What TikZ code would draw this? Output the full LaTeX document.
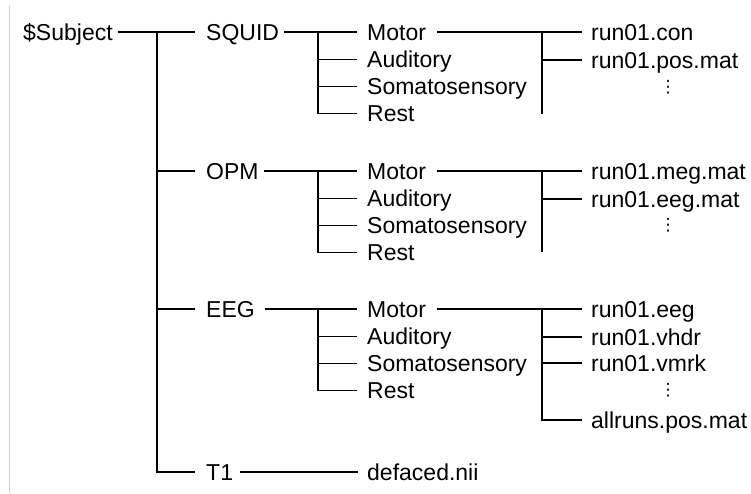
\documentclass[tikz,border=0pt]{standalone}
\usepackage{fontspec}
\setmainfont{Liberation Sans}
\newfontfamily\dotsfont{DejaVu Sans}
\tikzset{
    entry/.style={anchor=west,inner sep=0pt,text height=16.5pt,text depth=0pt,
                  font=\fontsize{23}{27}\selectfont},
    more/.style={inner sep=0pt,font=\dotsfont\fontsize{17}{20}\selectfont},
    link/.style={line width=1.5pt},
    into/.style={link,shorten >=10pt},
    frame/.style={draw=black!18,line width=1pt}
}

\begin{document}
\begin{tikzpicture}[x=1pt,y=-1pt]

    \useasboundingbox (0,0) rectangle (751,493);
    \draw[frame] (9,6) -- (9,493);

    % root and first level
    \node[entry] (subject) at (23,32)  {\$Subject};
    \node[entry] (squid)   at (206,32)  {SQUID};
    \node[entry] (opm)     at (206,171) {OPM};
    \node[entry] (eeg)     at (206,309) {EEG};
    \node[entry] (t1)      at (206,472) {T1};
    \node[entry] (defaced) at (367,472) {defaced.nii};

    \coordinate (root-j) at (157,32);
    \draw[link,shorten <=5pt,shorten >=11pt] (subject) -- (squid);
    \draw[link,shorten >=11pt] (root-j) |- (t1);
    \draw[link,shorten >=11pt] (root-j |- opm) -- (opm);
    \draw[link,shorten >=11pt] (root-j |- eeg) -- (eeg);
    \draw[link,shorten <=7pt,shorten >=9pt] (t1) -- (defaced);

    % tasks
    \foreach \grp/\top/\y/\gap in {sq/squid/32/5, op/opm/171/5, ee/eeg/309/10}{
        \node[entry] (\grp-mot)  at (367,\y)      {Motor};
        \node[entry] (\grp-aud)  at (367,\y+27.5) {Auditory};
        \node[entry] (\grp-som)  at (367,\y+54.5) {Somatosensory};
        \node[entry] (\grp-rest) at (367,\y+81.5) {Rest};
        \coordinate (\grp-j) at (318,\y);
        \draw[into,shorten <=\gap pt] (\top) -- (\grp-mot);
        \draw[into] (\grp-j) |- (\grp-rest);
        \draw[into] (\grp-j |- \grp-aud) -- (\grp-aud);
        \draw[into] (\grp-j |- \grp-som) -- (\grp-som);
    }

    % files
    \node[entry] (sq-f1) at (591,32)  {run01.con};
    \node[entry] (sq-f2) at (591,60)  {run01.pos.mat};
    \node[more]  (sq-dots) at (668,87) {⋮};

    \node[entry] (op-f1) at (591,171) {run01.meg.mat};
    \node[entry] (op-f2) at (591,199) {run01.eeg.mat};
    \node[more]  (op-dots) at (668,225) {⋮};

    \node[entry] (ee-f1) at (591,309) {run01.eeg};
    \node[entry] (ee-f2) at (591,337) {run01.vhdr};
    \node[entry] (ee-f3) at (591,363) {run01.vmrk};
    \node[more]  (ee-dots) at (668,390) {⋮};
    \node[entry] (ee-f4) at (591,420) {allruns.pos.mat};

    \coordinate (sq-k) at (542,32);
    \coordinate (sq-kend) at (542,114);
    \coordinate (op-k) at (542,171);
    \coordinate (op-kend) at (542,252);
    \coordinate (ee-k) at (542,309);

    \draw[link,shorten <=11pt,shorten >=9pt] (sq-mot) -- (sq-f1);
    \draw[link] (sq-k) -- (sq-kend);
    \draw[link,shorten >=9pt] (sq-k |- sq-f2) -- (sq-f2);

    \draw[link,shorten <=11pt,shorten >=9pt] (op-mot) -- (op-f1);
    \draw[link] (op-k) -- (op-kend);
    \draw[link,shorten >=9pt] (op-k |- op-f2) -- (op-f2);

    \draw[link,shorten <=11pt,shorten >=9pt] (ee-mot) -- (ee-f1);
    \draw[link,shorten >=9pt] (ee-k) |- (ee-f4);
    \draw[link,shorten >=9pt] (ee-k |- ee-f2) -- (ee-f2);
    \draw[link,shorten >=9pt] (ee-k |- ee-f3) -- (ee-f3);

\end{tikzpicture}
\end{document}
